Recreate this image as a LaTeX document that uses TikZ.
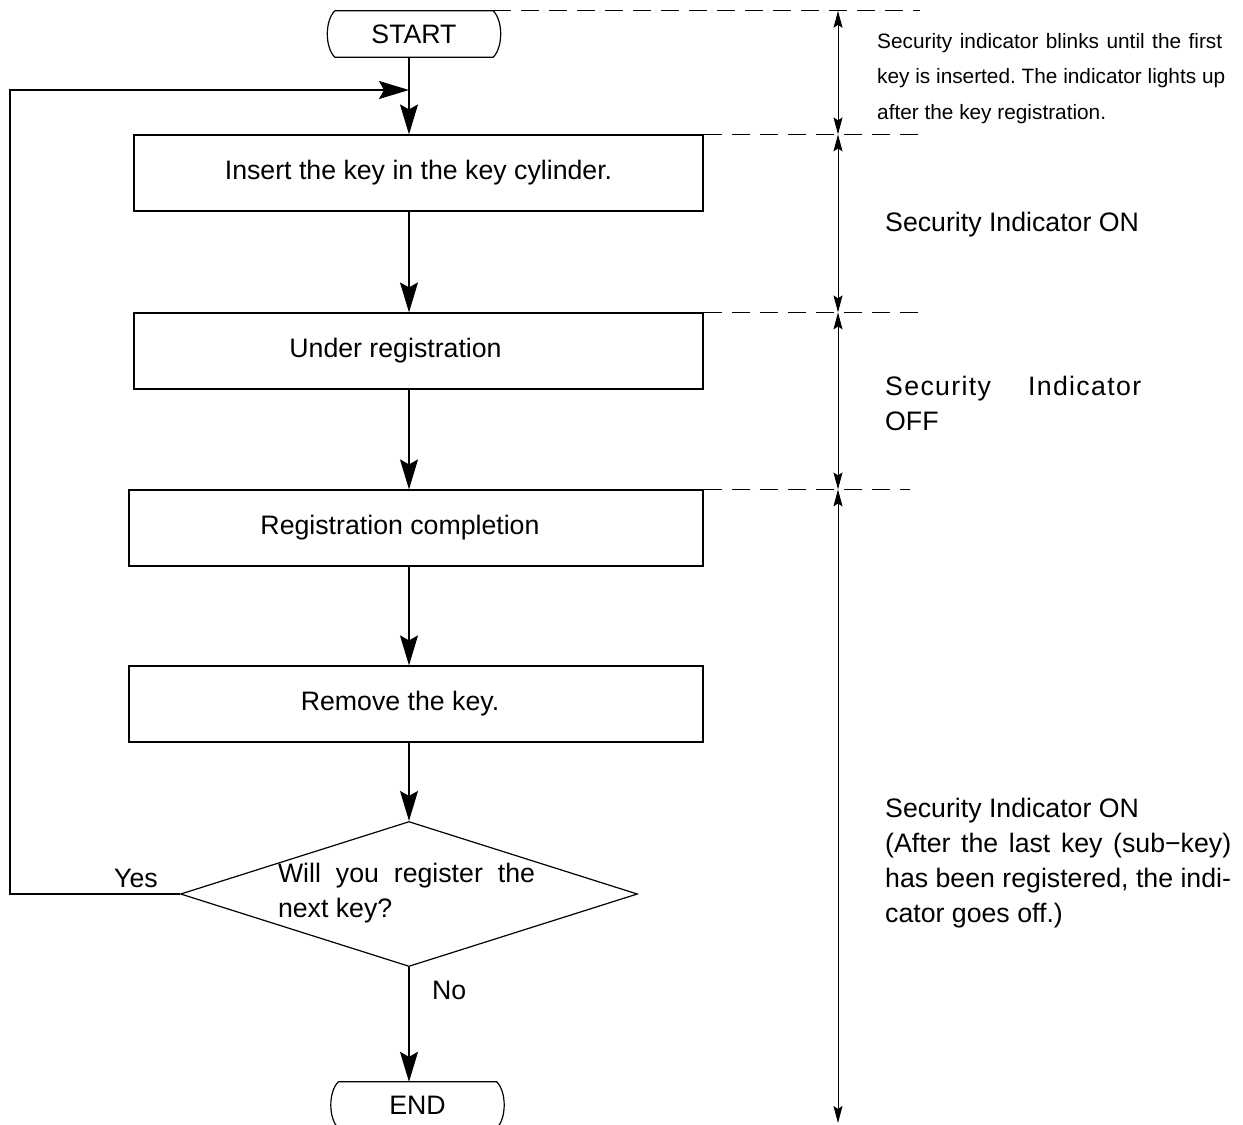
\documentclass[tikz,border=0pt]{standalone}
\usepackage{fontspec}
\setmainfont{Liberation Sans}
\usetikzlibrary{arrows.meta,shapes.geometric}
\newcommand\bigtxt{\fontsize{26.7}{35}\selectfont\frenchspacing}
\newcommand\smalltxt{\fontsize{20.8}{35.5}\selectfont\frenchspacing}
\begin{document}
\begin{tikzpicture}[x=1pt,y=-1pt,
  flow/.style={line width=1.3pt,-{Stealth[length=30pt,width=18pt,inset=5pt]}},
  dim/.style={line width=1pt,{Stealth[length=17pt,width=9pt,inset=3pt]}-{Stealth[length=17pt,width=9pt,inset=3pt]}},
  guide/.style={line width=1pt,dash pattern=on 18pt off 10pt},
  box/.style={draw,line width=1.2pt,inner sep=0pt,minimum height=76pt,font=\bigtxt},
  term/.style={inner sep=0pt,minimum width=158pt,minimum height=46pt,font=\bigtxt},
  termline/.style={line width=1.2pt},
  lbl/.style={inner sep=0pt,anchor=north west,font=\bigtxt,align=left},
  ]
\useasboundingbox (0,0) rectangle (1243,1125);

% helper coordinates
\coordinate (j) at (409,90);
\coordinate (lx) at (10,0);
\coordinate (dx) at (838,0);
\coordinate (ex) at (920,0);
\coordinate (ex2) at (910,0);
\coordinate (bot) at (838,1123);

% terminals
\node[term] (st) at (414,34) {START};
\draw[termline] (st.north west) -- (st.north east) .. controls +(10,10) and +(10,-10) .. (st.south east)
   -- (st.south west) .. controls +(-10,-10) and +(-10,10) .. (st.north west);
\node[term] (en) at (417.5,1105) {END};
\draw[termline] (en.north west) -- (en.north east) .. controls +(10,10) and +(10,-10) .. (en.south east)
   -- (en.south west) .. controls +(-10,-10) and +(-10,10) .. (en.north west);

% process boxes
\node[box,minimum width=569pt] (b1) at (418.5,173) {Insert the key in the key cylinder.};
\node[box,minimum width=569pt] (b2) at (418.5,351) {\hspace*{-46pt}Under registration};
\node[box,minimum width=574pt] (b3) at (416,528) {\hspace*{-32pt}Registration completion};
\node[box,minimum width=574pt] (b4) at (416,704) {\hspace*{-32pt}Remove the key.};

% decision
\node[diamond,draw,line width=1.2pt,minimum width=457pt,minimum height=145pt,inner sep=0pt] (dec) at (409,894) {};
\node[inner sep=0pt,font=\bigtxt,align=left] (dq) at (406.5,893) {\makebox[257pt][s]{Will you register the}\\next key?};

% flow connectors
\draw[flow] (st.south -| j) -- (b1.north -| j);
\draw[flow] (b1.south -| j) -- (b2.north -| j);
\draw[flow] (b2.south -| j) -- (b3.north -| j);
\draw[flow] (b3.south -| j) -- (b4.north -| j);
\draw[flow] (b4.south -| j) -- (dec.north);
\draw[flow] (dec.south) -- (en.north -| dec.south);
\draw[flow] (dec.west) -- (dec.west -| lx) -- (lx |- j) -- (j);

\node[lbl] (yes) at (114,869) {Yes};
\node[lbl] (no) at (432,981) {No};

% guide lines
\draw[guide] (st.north east) -- (st.north -| ex);
\draw[guide] (b1.north east) -- (b1.north -| ex);
\draw[guide] (b2.north east) -- (b2.north -| ex);
\draw[guide] (b3.north east) -- (b3.north -| ex2);

% dimension line
\draw[dim] (st.north -| dx) -- (b1.north -| dx);
\draw[dim] (b1.north -| dx) -- (b2.north -| dx);
\draw[dim] (b2.north -| dx) -- (b3.north -| dx);
\draw[dim] (b3.north -| dx) -- (bot);

% notes
\node[lbl,font=\smalltxt] (n1) at (877,33) {\makebox[345pt][s]{Security indicator blinks until the first}\\key is inserted. The indicator lights up\\after the key registration.};
\node[lbl] (n2) at (885,212) {Security Indicator ON};
\node[lbl] (n3) at (885,376) {\makebox[256pt][s]{\addfontfeature{LetterSpace=5}Security Indicator}\\OFF};
\node[lbl] (n4) at (885,798) {Security Indicator ON\\\makebox[346pt][s]{(After the last key (sub−key)}\\has been registered, the indi-\\cator goes off.)};
\end{tikzpicture}
\end{document}
